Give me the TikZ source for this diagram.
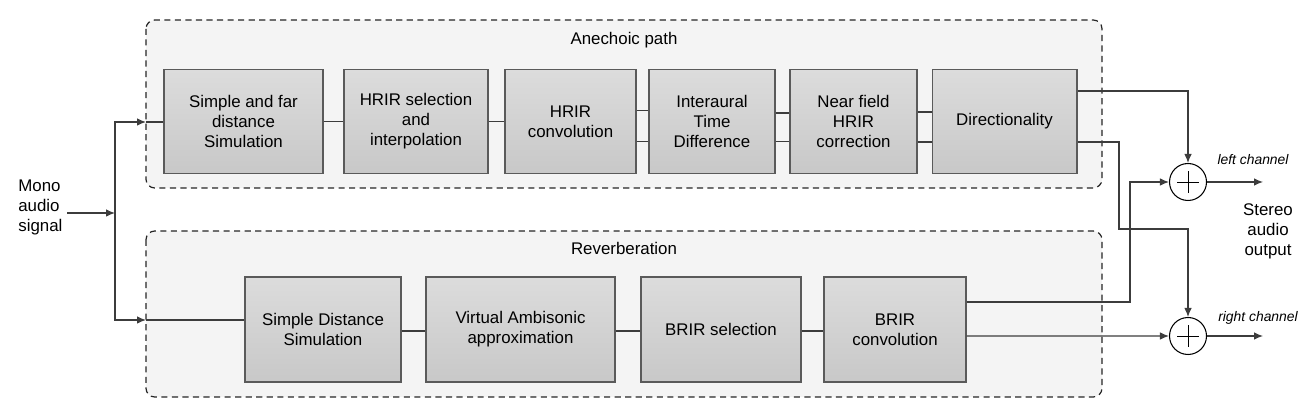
\documentclass[tikz,border=0pt]{standalone}
\usepackage{fontspec}
\setmainfont{Liberation Sans}
\usepackage{tikz}
\usetikzlibrary{arrows.meta}
\definecolor{panelgray}{HTML}{F4F4F4}
\definecolor{boxtop}{HTML}{DCDCDC}
\definecolor{boxbottom}{HTML}{C8C8C8}
\definecolor{boxline}{HTML}{5A5A5A}
\definecolor{wire}{HTML}{3C3C3C}
\tikzset{
    every node/.style={font=\fontsize{9.6}{11.4}\selectfont, align=center,
        inner sep=0pt}
}
\tikzset{
    block/.style={draw=boxline, line width=0.6pt, top color=boxtop,
        bottom color=boxbottom, minimum height=2.07cm},
    panel/.style={draw=black!85, dashed, dash pattern=on 3.5pt off 2.5pt,
        line width=0.7pt, fill=panelgray, rounded corners=5pt},
    sum/.style={circle, draw=black, line width=0.6pt, fill=white,
        minimum size=0.74cm,
        path picture={\draw[line width=0.5pt]
            (path picture bounding box.center) ++(-0.22cm,0) -- ++(0.44cm,0)
            (path picture bounding box.center) ++(0,-0.22cm) -- ++(0,0.44cm);}},
    chan/.style={font=\fontsize{7.9}{9.5}\selectfont\itshape},
    wired/.style={draw=wire, line width=0.6pt},
    arr/.style={wired, -{Latex[length=1.8mm,width=1.5mm]}}
}

\begin{document}
\begin{tikzpicture}[x=0.02cm, y=-0.02cm]
  \useasboundingbox (0,0) rectangle (1311,411);
  % panels
  \draw[panel] (146,20) rectangle (1102,188);
  \draw[panel] (146,231) rectangle (1102,397);
  \node (anech) at (624,40) {Anechoic path};
  \node (reverb) at (624,248) {Reverberation};

  % anechoic path
  \node[block, minimum width=3.18cm] (s1) at (243.5,121.5) {Simple and far\\distance\\Simulation};
  \node[block, minimum width=2.88cm] (s2) at (416,121.5) {HRIR selection\\and\\interpolation};
  \node[block, minimum width=2.62cm] (s3) at (570.5,121.5) {HRIR\\convolution};
  \node[block, minimum width=2.52cm] (s4) at (712,121.5) {Interaural\\Time\\Difference};
  \node[block, minimum width=2.54cm] (s5) at (853.5,121.5) {Near field\\HRIR\\correction};
  \node[block, minimum width=2.90cm] (s6) at (1004.5,121.5) {Directionality};

  % reverberation
  \node[block, minimum width=3.12cm, minimum height=2.10cm] (r1) at (323,329.5) {Simple Distance\\Simulation};
  \node[block, minimum width=3.78cm, minimum height=2.10cm] (r2) at (520.5,329.5) {Virtual Ambisonic\\approximation};
  \node[block, minimum width=3.20cm, minimum height=2.10cm] (r3) at (721,329.5) {BRIR selection};
  \node[block, minimum width=2.84cm, minimum height=2.10cm] (r4) at (895,329.5) {BRIR\\convolution};

  % input and output
  \node[align=left, anchor=west] (mono) at (18,207) {Mono\\audio\\signal};
  \node (stereo) at (1268,231) {Stereo\\audio\\output};
  \node[sum] (left) at (1188,182) {};
  \node[sum] (right) at (1188,336) {};
  \node[chan] (lname) at (1253,160) {left channel};
  \node[chan] (rname) at (1258,318) {right channel};

  \coordinate (in) at (67,213);
  \coordinate (split) at (115,213);
  \coordinate (topin) at (146,122);
  \coordinate (botin) at (146,320);
  \coordinate (lout) at (1263,182);
  \coordinate (rout) at (1263,336);

  \draw[arr] (in) -- (split);
  \draw[arr] (split) |- (topin);
  \draw[arr] (split) |- (botin);
  \draw[wired] (topin) -- (topin -| s1.west);
  \draw[wired] (botin) -- (botin -| r1.west);

  \draw[wired] (s1) -- (s2); \draw[wired] (s2) -- (s3);
  \draw[wired] ([yshift=0.22cm]s3.east) -- ([yshift=0.22cm]s4.west);
  \draw[wired] ([yshift=-0.4cm]s3.east) -- ([yshift=-0.4cm]s4.west);
  \draw[wired] ([yshift=0.17cm]s4.east) -- ([yshift=0.17cm]s5.west);
  \draw[wired] ([yshift=-0.4cm]s4.east) -- ([yshift=-0.4cm]s5.west);
  \draw[wired] ([yshift=0.19cm]s5.east) -- ([yshift=0.19cm]s6.west);
  \draw[wired] ([yshift=-0.41cm]s5.east) -- ([yshift=-0.41cm]s6.west);

  \draw[wired] ([yshift=-0.03cm]r1.east) -- ([yshift=-0.03cm]r2.west);
  \draw[wired] ([yshift=-0.03cm]r2.east) -- ([yshift=-0.03cm]r3.west);
  \draw[wired] ([yshift=-0.03cm]r3.east) -- ([yshift=-0.03cm]r4.west);

  \draw[arr] ([yshift=0.61cm]s6.east) -| (left.north);
  \draw[arr] ([yshift=-0.41cm]s6.east) -| (1119,229) -| (right.north);
  \draw[arr] ([yshift=0.55cm]r4.east) -| (1130,182) -- (left.west);
  \draw[arr] ([yshift=-0.13cm]r4.east) -- (right.west);
  \draw[arr] (left) -- (lout);
  \draw[arr] (right) -- (rout);
\end{tikzpicture}
\end{document}
